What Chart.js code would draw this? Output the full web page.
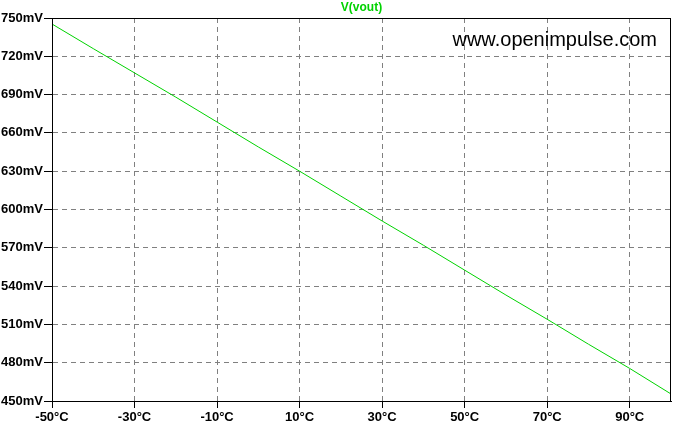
<!DOCTYPE html>
<html>
<head>
<meta charset="utf-8">
<script src="https://cdn.jsdelivr.net/npm/chart.js@4"></script>
<style>
  html, body { margin: 0; padding: 0; background: #fff; }
  canvas { display: block; }
</style>
</head>
<body>
<canvas id="chart" width="682" height="427"></canvas>
<script>
// temperature sweep (°C) and output voltage (mV)
const temps = [-50, -40, -30, -20, -10, 0, 10, 20, 30, 40, 50, 60, 70, 80, 90, 100];
const vout = [745.3, 726, 707, 688, 668.5, 649, 630, 610.5, 591, 572, 552.5, 533, 514, 494.5, 475.5, 455.5];
const xTicks = [-50, -30, -10, 10, 30, 50, 70, 90];
const yTicks = [450, 480, 510, 540, 570, 600, 630, 660, 690, 720, 750];
const seriesName = "V(vout)";
const watermark = "www.openimpulse.com";

const green = "rgb(0, 210, 0)";
const labelFont = { family: "Liberation Sans, Arial, sans-serif", size: 13, weight: "bold" };

// frame, series name and watermark, LTspice style
const overlay = {
  id: "overlay",
  afterDraw(chart) {
    const { ctx, chartArea: a } = chart;
    ctx.save();
    ctx.strokeStyle = "#000";
    ctx.lineWidth = 1;
    ctx.strokeRect(Math.round(a.left) + 0.5, Math.round(a.top) + 0.5,
      Math.round(a.right - a.left) - 1, Math.round(a.bottom - a.top));
    ctx.fillStyle = green;
    ctx.font = "bold 12px Liberation Sans, Arial, sans-serif";
    ctx.textAlign = "center";
    ctx.textBaseline = "middle";
    ctx.fillText(seriesName, (a.left + a.right) / 2, 8);
    ctx.fillStyle = "#000";
    ctx.font = "20px Liberation Sans, Arial, sans-serif";
    ctx.textAlign = "right";
    ctx.textBaseline = "alphabetic";
    ctx.fillText(watermark, 657, 46);
    ctx.restore();
  }
};

new Chart(document.getElementById("chart"), {
  type: "line",
  data: {
    datasets: [{
      label: seriesName,
      data: temps.map((t, i) => ({ x: t, y: vout[i] })),
      borderColor: green,
      borderWidth: 1,
      pointRadius: 0,
      tension: 0,
      fill: false,
    }],
  },
  options: {
    responsive: false,
    animation: false,
    layout: { padding: { left: 0, top: 18, right: 11, bottom: 0 } },
    plugins: { legend: { display: false }, tooltip: { enabled: false } },
    scales: {
      x: {
        type: "linear",
        min: -50,
        max: 100,
        afterBuildTicks: (s) => { s.ticks = xTicks.map((v) => ({ value: v })); },
        afterFit: (s) => { s.height = 26; },
        grid: { color: "#808080", tickColor: "#000", tickLength: 7, tickBorderDash: [] },
        border: { color: "#000", dash: [5, 4] },
        ticks: {
          color: "#000",
          font: labelFont,
          padding: 2,
          maxRotation: 0,
          autoSkip: false,
          callback: (v) => v + "°C",
        },
      },
      y: {
        min: 450,
        max: 750,
        afterBuildTicks: (s) => { s.ticks = yTicks.map((v) => ({ value: v })); },
        afterFit: (s) => { s.width = 52; },
        grid: { color: "#808080", tickColor: "#000", tickLength: 8, tickBorderDash: [] },
        border: { color: "#000", dash: [5, 4] },
        ticks: {
          color: "#000",
          font: labelFont,
          padding: 1,
          autoSkip: false,
          callback: (v) => v + "mV",
        },
      },
    },
  },
  plugins: [overlay],
});
</script>
</body>
</html>
